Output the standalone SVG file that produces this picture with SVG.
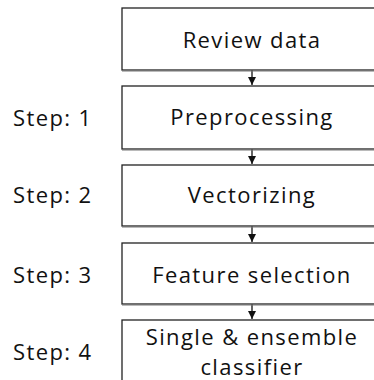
<svg xmlns="http://www.w3.org/2000/svg" width="374" height="380" viewBox="0 0 374 380">
<defs>
<style>
.box{fill:#fff;stroke:#222;stroke-width:1.3}
.sh{stroke:#777;stroke-width:1.2}
.t{font-family:"Open Sans","Noto Sans",sans-serif;font-size:22px;letter-spacing:1.4px;fill:#111;text-anchor:middle}
.s{font-family:"Open Sans","Noto Sans",sans-serif;font-size:22px;letter-spacing:1.4px;fill:#111}
.c{stroke:#111;stroke-width:1.3;fill:none}
</style>
<marker id="ah" viewBox="0 0 10 10" refX="10" refY="5" markerWidth="8" markerHeight="8" markerUnits="userSpaceOnUse" orient="auto">
<path d="M0,0 L10,5 L0,10 z" fill="#111"/>
</marker>
</defs>
<g id="connectors">
<line class="c" x1="252" y1="70" x2="252" y2="85" marker-end="url(#ah)"/>
<line class="c" x1="252" y1="149" x2="252" y2="164" marker-end="url(#ah)"/>
<line class="c" x1="252" y1="226" x2="252" y2="242" marker-end="url(#ah)"/>
<line class="c" x1="252" y1="304" x2="252" y2="319" marker-end="url(#ah)"/>
</g>
<g id="review">
<rect class="box" x="122" y="8" width="262" height="62"/>
<line class="sh" x1="122" y1="71" x2="374" y2="71"/>
<text class="t" x="252" y="48">Review data</text>
</g>
<g id="preprocessing">
<rect class="box" x="122" y="86" width="262" height="63"/>
<line class="sh" x1="122" y1="150" x2="374" y2="150"/>
<text class="t" x="252" y="125">Preprocessing</text>
</g>
<g id="vectorizing">
<rect class="box" x="122" y="165" width="262" height="61"/>
<line class="sh" x1="122" y1="227" x2="374" y2="227"/>
<text class="t" x="252" y="203">Vectorizing</text>
</g>
<g id="feature">
<rect class="box" x="122" y="243" width="262" height="61"/>
<line class="sh" x1="122" y1="305" x2="374" y2="305"/>
<text class="t" x="252" y="283">Feature selection</text>
</g>
<g id="classifier">
<rect class="box" x="122" y="320" width="262" height="70"/>
<text class="t" x="252" y="345">Single &amp; ensemble</text>
<text class="t" x="252" y="375">classifier</text>
</g>
<g id="steps">
<text class="s" x="13" y="126">Step: 1</text>
<text class="s" x="13" y="203">Step: 2</text>
<text class="s" x="13" y="283">Step: 3</text>
<text class="s" x="13" y="360">Step: 4</text>
</g>
</svg>
